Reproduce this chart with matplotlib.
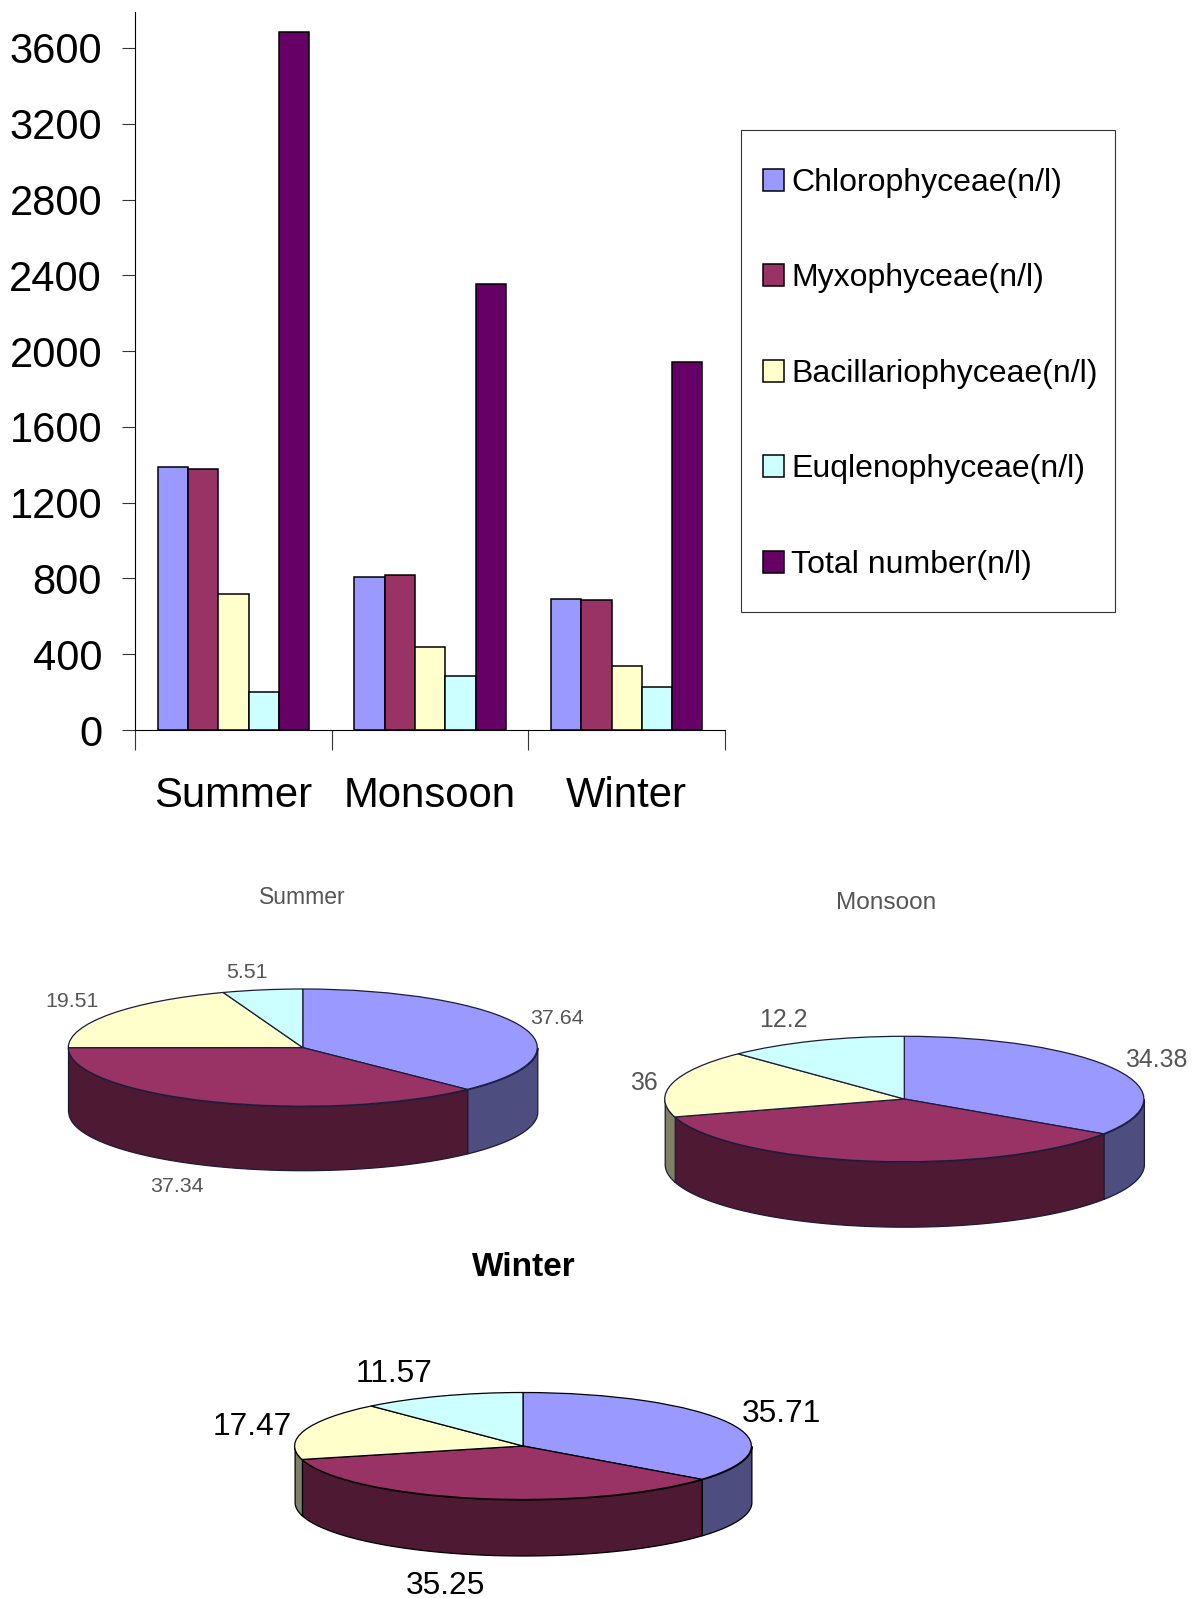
import numpy as np
import matplotlib
matplotlib.use('Agg')
import matplotlib.pyplot as plt
from matplotlib.patches import Rectangle

plt.rcParams['font.family'] = ['Liberation Sans', 'DejaVu Sans']

W, H = 1204, 1598

seasons = ['Summer', 'Monsoon', 'Winter']
groups = ['Chlorophyceae(n/l)', 'Myxophyceae(n/l)', 'Bacillariophyceae(n/l)',
          'Euqlenophyceae(n/l)', 'Total number(n/l)']

chloro = [1387, 807, 694]
myxo = [1376, 818, 685]
bacil = [719, 436, 339]
euglen = [203, 287, 225]
total = [3685, 2352, 1943]

summer_pct = [37.64, 37.34, 19.51, 5.51]
monsoon_pct = [34.38, 36, 17.42, 12.2]
winter_pct = [35.71, 35.25, 17.47, 11.57]

y_ticks = [0, 400, 800, 1200, 1600, 2000, 2400, 2800, 3200, 3600]

colors = ['#9999FF', '#993366', '#FFFFCC', '#CCFFFF', '#660066']
wall_colors = ['#4D4D80', '#4D1933', '#808066', '#668080']


def fx(x):
    return x / W


def fy(y):
    return 1 - y / H


def pie_3d(fig, values, cx, cy, rx, ry, depth, edge):
    # squashed pie on top of a stack of side walls, sizes are in pixels
    left = cx - 1.05 * rx
    bottom = cy + 1.05 * ry + depth
    ax = fig.add_axes([fx(left), fy(bottom), 2.1 * rx / W, (2.1 * ry + depth) / H])
    ax.pie(values, colors=colors, startangle=90, counterclock=False, radius=1,
           wedgeprops={'edgecolor': edge, 'linewidth': 0.9})
    ax.set_aspect('auto')
    ax.set_xlim(-1.05, 1.05)
    ax.set_ylim(-1.05 - depth / ry, 1.05)

    edges = 90 - 360 * np.cumsum([0] + list(values)) / np.sum(values)
    for i in range(len(values)):
        a1 = max(edges[i + 1], -180)
        a2 = min(edges[i], 0)
        if a2 <= a1:
            continue
        t = np.radians(np.linspace(a1, a2, 80))
        ax.fill_between(np.cos(t), np.sin(t), np.sin(t) - depth / ry,
                        facecolor=wall_colors[i], edgecolor=edge, linewidth=0.9, zorder=0.5)
    return ax


fig = plt.figure(figsize=(W / 100, H / 100), dpi=100, facecolor='white')

# bar chart
ax = fig.add_axes([fx(135.2), fy(730), (725 - 135.2) / W, (730 - 12) / H])
x = np.arange(3) + 0.5
bar_w = 0.154
series = [chloro, myxo, bacil, euglen, total]
for i in range(5):
    ax.bar(x + (i - 2) * bar_w, series[i], bar_w, color=colors[i], edgecolor='black',
           linewidth=1.1, label=groups[i])

ax.set_xlim(0, 3)
ax.set_ylim(0, 3790)
ax.spines['top'].set_visible(False)
ax.spines['right'].set_visible(False)
ax.set_yticks(y_ticks)
ax.tick_params(axis='y', labelsize=30, length=9.4, width=0.8, pad=14.5, color='#333333')
ax.set_xticks([0, 1, 2, 3])
ax.set_xticklabels([])
ax.tick_params(axis='x', which='major', length=14.4, width=0.8, color='#333333')
ax.set_xticks(x, minor=True)
ax.set_xticklabels(seasons, minor=True)
ax.tick_params(axis='x', which='minor', length=0, labelsize=30.2, pad=33)

ax.legend(loc='upper left', bbox_to_anchor=(fx(762.6), fy(168)), bbox_transform=fig.transFigure,
          frameon=False, fontsize=23, borderpad=0, borderaxespad=0, labelspacing=2.05,
          handlelength=0.68, handleheight=0.68, handletextpad=0.22)
fig.add_artist(Rectangle((fx(741), fy(612)), (1115 - 741) / W, (612 - 129.5) / H,
                         transform=fig.transFigure, facecolor='none', edgecolor='#333333',
                         linewidth=0.8))

# season pies
pie_3d(fig, summer_pct, 302.8, 1047.6, 234.5, 58.6, 64, '#1c1c3a')
pie_3d(fig, monsoon_pct, 904.3, 1099, 239.6, 62.7, 65, '#1c1c3a')
pie_3d(fig, winter_pct, 523, 1446, 228.4, 53.5, 56, 'black')

gray = '#555555'
fig.text(fx(301.8), fy(897), seasons[0], fontsize=16.5, color=gray, ha='center', va='center')
fig.text(fx(886), fy(903), seasons[1], fontsize=17.6, color=gray, ha='center', va='center')
fig.text(fx(524), fy(1267), seasons[2], fontsize=24, fontweight='bold', color='black',
         ha='center', va='center')

for v, px, py in [(summer_pct[3], 246.7, 972), (summer_pct[2], 72.4, 1001.5),
                  (summer_pct[0], 556.6, 1019), (summer_pct[1], 177.4, 1187)]:
    fig.text(fx(px), fy(py), f'{v:g}', fontsize=15.4, color=gray, ha='center', va='center')

for v, px, py in [(monsoon_pct[3], 783, 1020), (monsoon_pct[1], 644.3, 1083),
                  (monsoon_pct[0], 1156.6, 1060)]:
    fig.text(fx(px), fy(py), f'{v:g}', fontsize=17.9, color=gray, ha='center', va='center')

for v, px, py in [(winter_pct[3], 394.5, 1374), (winter_pct[2], 251.8, 1427),
                  (winter_pct[0], 781, 1414.5), (winter_pct[1], 445.5, 1586)]:
    fig.text(fx(px), fy(py), f'{v:g}', fontsize=22.9, color='black', ha='center', va='center')

fig.savefig('out.png', dpi=100)
